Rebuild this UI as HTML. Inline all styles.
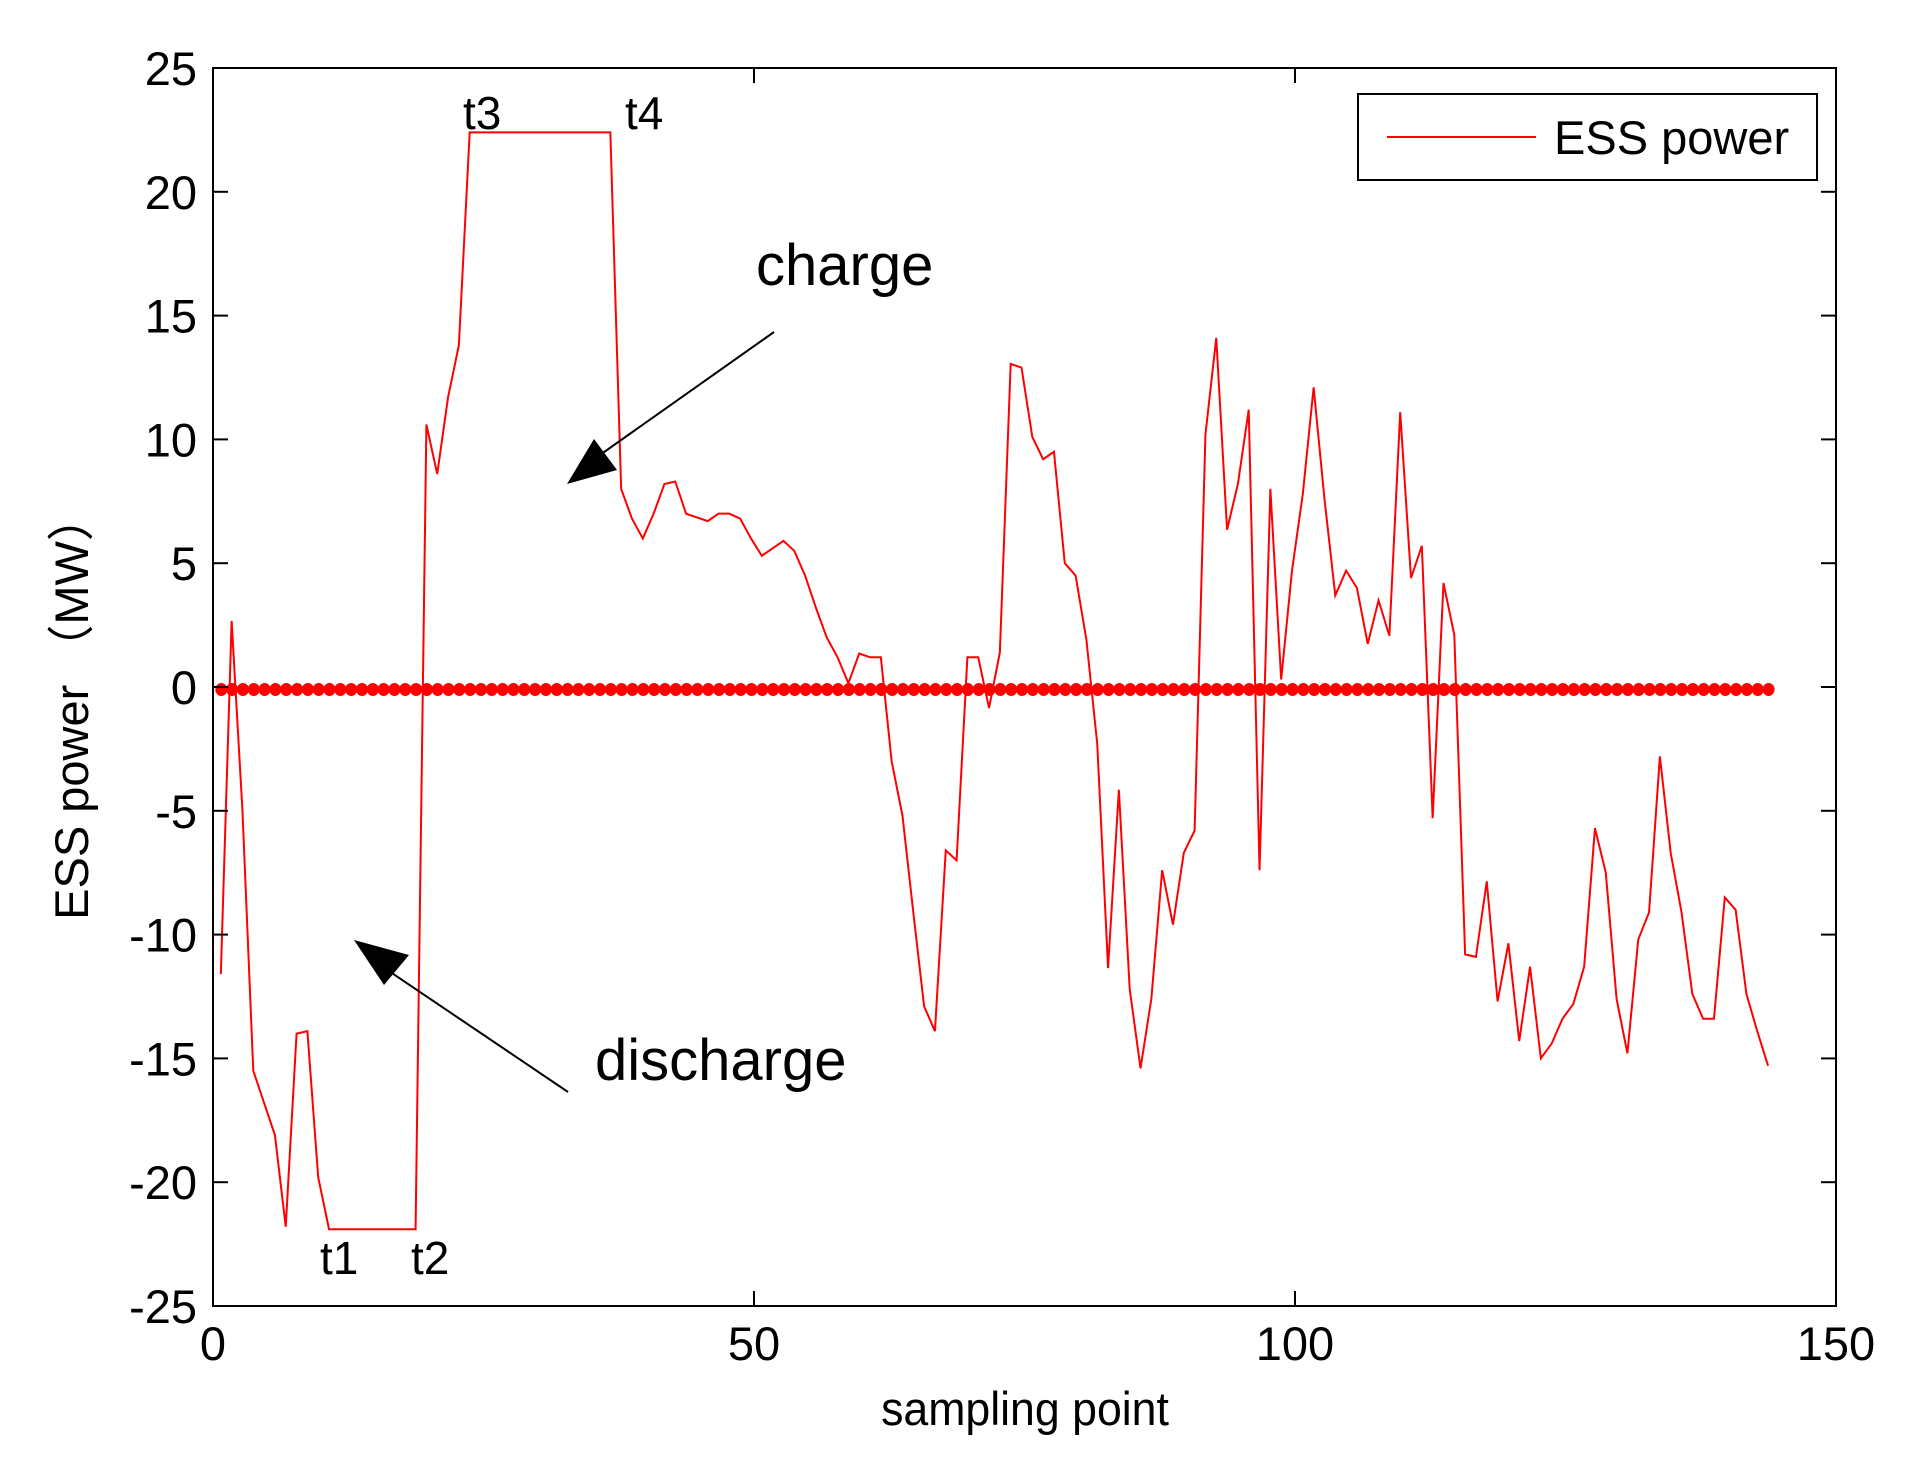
<!DOCTYPE html>
<html><head><meta charset="utf-8"><style>
html,body{margin:0;padding:0;background:#fff}
svg{display:block}
text{font-family:"Liberation Sans","Noto Sans CJK SC",sans-serif;fill:#000}
</style></head><body>
<svg id="chart" width="1914" height="1481" viewBox="0 0 1914 1481" xmlns="http://www.w3.org/2000/svg">
<rect x="0" y="0" width="1914" height="1481" fill="#fff"/>
<g id="marks"></g>
<rect x="213" y="68" width="1623" height="1238" fill="none" stroke="#000" stroke-width="2"/>
<g id="ticks"></g>
<text x="1025" y="1425" font-size="47" text-anchor="middle" transform="translate(1025,0) scale(0.95,1) translate(-1025,0)">sampling point</text>
<text transform="translate(88,707) rotate(-90)" font-size="47" text-anchor="middle">ESS power （MW）</text>
<text x="756" y="285" font-size="58">charge</text>
<text x="595" y="1080" font-size="58">discharge</text>
<text x="463" y="129" font-size="46">t3</text>
<text x="625" y="129" font-size="46">t4</text>
<text x="320" y="1274" font-size="46">t1</text>
<text x="411" y="1274" font-size="46">t2</text>
<line x1="774" y1="332" x2="590" y2="462" stroke="#000" stroke-width="2"/>
<polygon points="567,484 594,439 617,470" fill="#000"/>
<line x1="568" y1="1092" x2="380" y2="965" stroke="#000" stroke-width="2"/>
<polygon points="354,940 384,985 409,955" fill="#000"/>
<g>
<rect x="1358" y="94" width="459" height="86" fill="#fff" stroke="#000" stroke-width="2"/>
<line x1="1387" y1="137" x2="1536" y2="137" stroke="#f00" stroke-width="2"/>
<text x="1554" y="154" font-size="47">ESS power</text>
</g>
</svg>
<script>
const essPower = [-11.6,2.67,-5,-15.5,-16.8,-18.1,-21.8,-14.0,-13.9,-19.8,
-21.9,-21.9,-21.9,-21.9,-21.9,-21.9,-21.9,-21.9,-21.9,
10.6,8.6,11.7,13.8,
22.4,22.4,22.4,22.4,22.4,22.4,22.4,22.4,22.4,22.4,22.4,22.4,22.4,22.4,
8.0,6.8,6.0,7.0,8.2,8.3,7.0,6.85,6.7,7.0,7.0,6.8,6.0,5.3,5.6,5.9,5.5,4.5,3.2,2.0,1.2,0.15,
1.35,1.2,1.2,-3.0,-5.2,-9.1,-12.9,-13.9,-6.6,-7.0,1.2,1.2,-0.85,1.4,13.05,12.9,10.1,9.2,9.5,5.0,4.5,1.9,-2.3,-11.35,-4.15,-12.2,-15.4,-12.6,-7.4,-9.6,-6.7,-5.8,10.2,14.1,6.35,8.2,11.2,-7.4,8.0,0.3,4.7,7.8,12.1,7.6,3.7,4.7,
4.0,1.74,3.5,2.07,11.1,4.4,5.7,-5.3,4.2,2.1,-10.8,-10.9,-7.85,-12.7,-10.35,-14.3,-11.3,-15.0,-14.4,-13.4,-12.8,-11.3,-5.7,-7.5,-12.6,-14.8,-10.2,-9.1,-2.8,-6.7,-9.1,-12.4,-13.4,-13.4,-8.5,-9.0,-12.4,-13.9,-15.3];
const zeroLevel = -0.1;
const xTicks = [0,50,100,150];
const yTicks = [25,20,15,10,5,0,-5,-10,-15,-20,-25];
const xDomain = [0,150];
const yDomain = [-25,25];

const NS = "http://www.w3.org/2000/svg";
const L=213,R=1836,T=68,B=1306;
function sx(v){return L+(v-xDomain[0])/(xDomain[1]-xDomain[0])*(R-L);}
function sy(v){return B-(v-yDomain[0])/(yDomain[1]-yDomain[0])*(B-T);}
function mk(tag,attrs){const e=document.createElementNS(NS,tag);for(const k in attrs)e.setAttribute(k,attrs[k]);return e;}

const marks=document.getElementById('marks');
const dots=mk('g',{});


essPower.forEach((v,i)=>{
  const c=mk('ellipse',{cx:sx(i+1)-2.5,cy:sy(zeroLevel),rx:6,ry:6.5,fill:'#f00'});
  
  
  dots.appendChild(c);
});
marks.appendChild(dots);
const pts=essPower.map((v,i)=>(sx(i+1)-3)+','+sy(v)).join(' ');
const line=mk('polyline',{points:pts,fill:'none',stroke:'#f00','stroke-width':2,'stroke-linejoin':'miter'});


marks.appendChild(line);

const ticks=document.getElementById('ticks');
xTicks.forEach(t=>{
  const x=sx(t);
  const a=mk('line',{x1:x,y1:B,x2:x,y2:B-15,stroke:'#000','stroke-width':2});
  
  
  ticks.appendChild(a);
  const b=mk('line',{x1:x,y1:T,x2:x,y2:T+15,stroke:'#000','stroke-width':2});
  
  
  ticks.appendChild(b);
  const tx=mk('text',{x:x,y:1360,'font-size':47,'text-anchor':'middle'});
  tx.textContent=t;
  
  
  ticks.appendChild(tx);
});
yTicks.forEach(t=>{
  const y=sy(t);
  const a=mk('line',{x1:L,y1:y,x2:L+15,y2:y,stroke:'#000','stroke-width':2});
  
  
  ticks.appendChild(a);
  const b=mk('line',{x1:R,y1:y,x2:R-15,y2:y,stroke:'#000','stroke-width':2});
  
  
  ticks.appendChild(b);
  const tx=mk('text',{x:197,y:y+17,'font-size':47,'text-anchor':'end'});
  tx.textContent=t;
  
  
  ticks.appendChild(tx);
});
</script>
</body></html>
